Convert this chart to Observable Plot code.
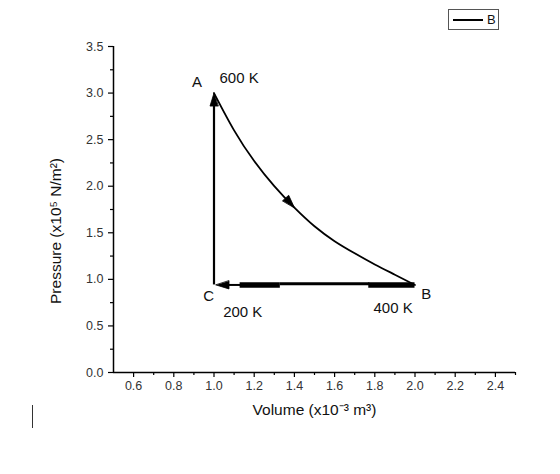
<!DOCTYPE html>
<html>
<head>
<meta charset="utf-8">
<script src="https://cdn.jsdelivr.net/npm/d3@7"></script>
<script src="https://cdn.jsdelivr.net/npm/@observablehq/plot@0.6"></script>
<style>
  html, body { margin: 0; padding: 0; background: #fff; }
  body { width: 560px; height: 474px; position: relative; overflow: hidden; font-family: "Liberation Sans", Arial, sans-serif; }
  #chart { position: absolute; left: 0; top: 0; }
  #legend { position: absolute; left: 448px; top: 9px; width: 51px; height: 21px; border: 1px solid #555; box-sizing: border-box; background: #fff; }
  #legend .ln { position: absolute; left: 4px; top: 9px; width: 30px; height: 2px; background: #000; }
  #legend .lb { position: absolute; left: 38px; top: 2px; font-size: 13px; color: #111; line-height: 15px; }
  #caret { position: absolute; left: 32px; top: 405px; width: 1px; height: 23px; background: #333; }
</style>
</head>
<body>
<div id="chart"></div>
<div id="legend"><div class="ln"></div><div class="lb">B</div></div>
<div id="caret"></div>
<script>
// ---- data ----
const curveV = [1.0, 1.1, 1.2, 1.3, 1.4, 1.5, 1.6, 1.7, 1.8, 1.9, 2.0];
const curveP = [3.0, 2.60, 2.27, 2.00, 1.77, 1.57, 1.41, 1.28, 1.16, 1.05, 0.94];
const pointB = {v: 2.0, p: 0.94};
const pointC = {v: 1.0, p: 0.94};
const xTicks = [0.6, 0.8, 1.0, 1.2, 1.4, 1.6, 1.8, 2.0, 2.2, 2.4];
const xMinor = [0.7, 0.9, 1.1, 1.3, 1.5, 1.7, 1.9, 2.1, 2.3, 2.5];
const yTicks = [0.0, 0.5, 1.0, 1.5, 2.0, 2.5, 3.0, 3.5];
const yMinor = [0.25, 0.75, 1.25, 1.75, 2.25, 2.75, 3.25];
// horizontal B->C segments (thickness varies in the picture)
const bcSegments = [
  {v1: 1.04, v2: 1.135, w: 2, dy: 0},
  {v1: 1.13, v2: 1.33, w: 5.5, dy: 0},
  {v1: 1.33, v2: 1.775, w: 3, dy: -1.2},
  {v1: 1.77, v2: 2.0, w: 5.5, dy: 0}
];
const heads = [
  {v: 1.0, p: 3.0, rot: 0},
  {v: 1.01, p: 0.94, rot: -90},
  {v: 1.40, p: 1.77, rot: 138}
];
const labels = [
  {t: "A", v: 0.916, p: 3.115},
  {t: "600 K", v: 1.125, p: 3.165},
  {t: "C", v: 0.974, p: 0.816},
  {t: "200 K", v: 1.143, p: 0.645},
  {t: "B", v: 2.056, p: 0.838},
  {t: "400 K", v: 1.891, p: 0.687}
];
const xLabel = "Volume (x10⁻³ m³)";
const yLabel = "Pressure (x10⁵ N/m²)";

const curve = curveV.map((v, i) => ({v, p: curveP[i]}));

const headShape = {
  draw(ctx, l, r) {
    ctx.moveTo(0, 0);
    ctx.lineTo(-r, l);
    ctx.lineTo(r, l);
    ctx.closePath();
  }
};

const fmt = d3.format(".1f");

const chart = Plot.plot({
  width: 560,
  height: 474,
  marginLeft: 113,
  marginRight: 45,
  marginTop: 46,
  marginBottom: 102,
  style: {fontFamily: "Liberation Sans, Arial, sans-serif", background: "transparent"},
  x: {domain: [0.5, 2.5]},
  y: {domain: [0, 3.5]},
  marks: [
    Plot.axisX({ticks: xTicks, tickSize: 5, tickPadding: 4, tickFormat: fmt, fontSize: 12.5, fill: "#333", stroke: "#000", strokeWidth: 1.2, label: null}),
    Plot.axisX({ticks: xMinor, tickSize: 3, text: null, stroke: "#000", strokeWidth: 1.2, label: null}),
    Plot.axisY({ticks: yTicks, tickSize: 5, tickPadding: 5, tickFormat: fmt, fontSize: 12.5, fill: "#333", stroke: "#000", strokeWidth: 1.2, label: null}),
    Plot.axisY({ticks: yMinor, tickSize: 3, text: null, stroke: "#000", strokeWidth: 1.2, label: null}),
    Plot.ruleY([0], {x1: 0.5, x2: 2.5, stroke: "#000", strokeWidth: 1.5}),
    Plot.ruleX([0.5], {y1: 0, y2: 3.5, stroke: "#000", strokeWidth: 1.5}),
    Plot.line(curve, {x: "v", y: "p", curve: "natural", stroke: "#000", strokeWidth: 1.8}),
    Plot.ruleX([pointC.v], {y1: pointC.p, y2: 2.92, stroke: "#000", strokeWidth: 2.2}),
    ...bcSegments.map(s => Plot.ruleY([pointB.p], {x1: s.v1, x2: s.v2, stroke: "#000", strokeWidth: s.w, dy: s.dy})),
    Plot.vector(heads, {x: "v", y: "p", rotate: "rot", length: 13, r: 4, shape: headShape, anchor: "start", fill: "#000", stroke: "#000", strokeWidth: 0.8}),
    Plot.text(labels, {x: "v", y: "p", text: "t", fontSize: 15, fill: "#111"}),
    Plot.text([xLabel], {frameAnchor: "bottom", dy: 42, fontSize: 15.5, fill: "#111"})
  ]
});

const svgNode = chart.tagName.toLowerCase() === "svg" ? chart : chart.querySelector("svg");
d3.select(svgNode).append("text")
  .attr("transform", "translate(61,231) rotate(-90)")
  .attr("text-anchor", "middle")
  .attr("font-size", 15.5)
  .attr("font-family", "Liberation Sans, Arial, sans-serif")
  .attr("fill", "#111")
  .text(yLabel);

document.getElementById("chart").appendChild(chart);
</script>
</body>
</html>
